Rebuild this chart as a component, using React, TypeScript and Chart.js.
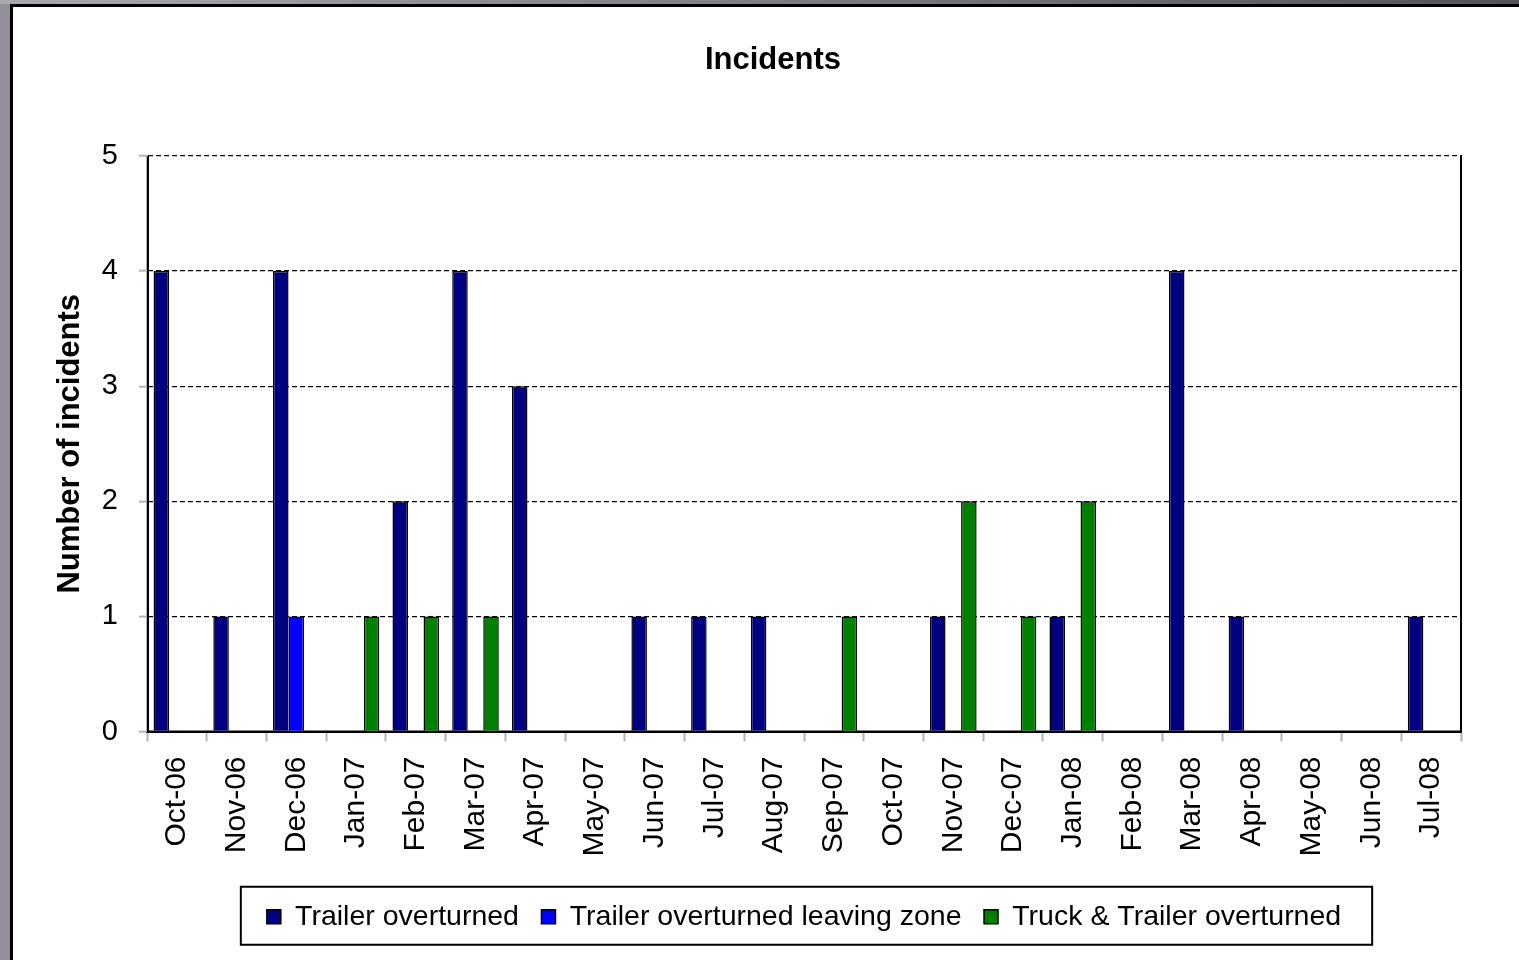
import React, { useEffect, useRef } from "react";
import { Chart, registerables } from "chart.js";

Chart.register(...registerables);

const months = [
  "Oct-06", "Nov-06", "Dec-06", "Jan-07", "Feb-07", "Mar-07", "Apr-07", "May-07",
  "Jun-07", "Jul-07", "Aug-07", "Sep-07", "Oct-07", "Nov-07", "Dec-07", "Jan-08",
  "Feb-08", "Mar-08", "Apr-08", "May-08", "Jun-08", "Jul-08",
];

const trailerOverturned = [4, 1, 4, 0, 2, 4, 3, 0, 1, 1, 1, 0, 0, 1, 0, 1, 0, 4, 1, 0, 0, 1];
const trailerLeavingZone = [0, 0, 1, 0, 0, 0, 0, 0, 0, 0, 0, 0, 0, 0, 0, 0, 0, 0, 0, 0, 0, 0];
const truckAndTrailer = [0, 0, 0, 1, 1, 1, 0, 0, 0, 0, 0, 1, 0, 2, 1, 2, 0, 0, 0, 0, 0, 0];

const yTicks = [0, 1, 2, 3, 4, 5];

const FONT = "'Liberation Sans', Arial, Helvetica, sans-serif";

// Black frame around the plot area (right, bottom, left edges) and a boxed legend.
const framePlugin = {
  id: "plotFrame",
  beforeDatasetsDraw(chart: any) {
    const { ctx, chartArea } = chart;
    const { left, right, top, bottom } = chartArea;
    ctx.save();
    ctx.strokeStyle = "#000";
    ctx.lineWidth = 2;
    ctx.beginPath();
    ctx.moveTo(left + 1, top);
    ctx.lineTo(left + 1, bottom);
    ctx.moveTo(right, top - 1);
    ctx.lineTo(right, bottom);
    ctx.moveTo(left, bottom);
    ctx.lineTo(right + 1, bottom);
    ctx.stroke();
    ctx.restore();
  },
  afterDraw(chart: any) {
    const legend = chart.legend;
    if (!legend || !legend.legendHitBoxes || !legend.legendHitBoxes.length) return;
    const boxes = legend.legendHitBoxes;
    let minX = Infinity, maxX = -Infinity, cy = 0;
    boxes.forEach((b: any) => {
      minX = Math.min(minX, b.left);
      maxX = Math.max(maxX, b.left + b.width);
      cy = b.top + b.height / 2;
    });
    const { ctx } = chart;
    ctx.save();
    ctx.strokeStyle = "#000";
    ctx.lineWidth = 2;
    ctx.strokeRect(minX - 26, cy - 30, maxX - minX + 26 + 31, 58);
    ctx.restore();
  },
};

export default function App() {
  const canvasRef = useRef<HTMLCanvasElement | null>(null);

  useEffect(() => {
    document.body.style.margin = "0";
    document.body.style.overflow = "hidden";
    const canvas = canvasRef.current;
    if (!canvas) return;

    const chart = new Chart(canvas, {
      type: "bar",
      data: {
        labels: months,
        datasets: [
          {
            label: "Trailer overturned",
            data: trailerOverturned,
            backgroundColor: "#000080",
            borderColor: "#000",
            borderWidth: 1.5,
          },
          {
            label: "Trailer overturned leaving zone",
            data: trailerLeavingZone,
            backgroundColor: "#0000FF",
            borderColor: "#000",
            borderWidth: 1.5,
          },
          {
            label: "Truck & Trailer overturned",
            data: truckAndTrailer,
            backgroundColor: "#008000",
            borderColor: "#000",
            borderWidth: 1.5,
          },
        ],
      },
      options: {
        animation: false,
        responsive: false,
        maintainAspectRatio: false,
        layout: { padding: { left: 27, right: 0, top: 0, bottom: 19 } },
        datasets: {
          bar: { barPercentage: 1, categoryPercentage: 0.78 },
        },
        plugins: {
          title: {
            display: true,
            text: "Incidents",
            color: "#000",
            font: { family: FONT, size: 31, weight: "bold" },
            padding: { top: 41.4, bottom: 77.4 },
          },
          legend: {
            position: "bottom",
            fullSize: false,
            labels: {
              color: "#000",
              font: { family: FONT, size: 28.5 },
              boxWidth: 14,
              boxHeight: 14,
              padding: 22.5,
            },
          },
          tooltip: { enabled: false },
        },
        scales: {
          x: {
            offset: true,
            grid: {
              offset: true,
              drawOnChartArea: false,
              drawTicks: true,
              tickLength: 10,
              tickColor: "#b4b4b4",
              tickWidth: 2,
            },
            border: { display: true, color: "#000", width: 2 },
            ticks: {
              color: "#000",
              font: { family: FONT, size: 30 },
              minRotation: 90,
              maxRotation: 90,
              autoSkip: false,
              padding: 15,
            },
            afterFit(scale: any) {
              scale.height = 148.5;
            },
          },
          y: {
            min: 0,
            max: 5,
            afterBuildTicks(scale: any) {
              scale.ticks = yTicks.map((v) => ({ value: v }));
            },
            grid: {
              color: "#000",
              lineWidth: 1.3,
              tickColor: "#b4b4b4",
              tickWidth: 2,
              tickLength: 8,
              tickBorderDash: [],
            },
            border: { display: true, color: "#b4b4b4", width: 2, dash: [5, 3] },
            ticks: {
              color: "#000",
              font: { family: FONT, size: 29 },
              padding: 21,
            },
            title: {
              display: true,
              text: "Number of incidents",
              color: "#000",
              font: { family: FONT, size: 31, weight: "bold" },
              padding: { top: 24.4, bottom: 0 },
            },
            afterFit(scale: any) {
              scale.width = 120;
            },
          },
          yRight: {
            position: "right",
            display: true,
            grid: { display: false, drawOnChartArea: false },
            border: { display: false },
            ticks: { display: false },
            afterFit(scale: any) {
              scale.width = 58;
            },
          },
        },
      },
      plugins: [framePlugin],
    } as any);

    return () => chart.destroy();
  }, []);

  return (
    <div style={{ position: "relative", width: 1519, height: 960, overflow: "hidden", background: "#938f99" }}>
      <div
        style={{
          position: "absolute",
          left: 0,
          top: 0,
          right: 0,
          height: 4,
          background: "linear-gradient(to right, #aaa9b0, #55535a)",
        }}
      />
      <div
        style={{
          position: "absolute",
          left: 10,
          top: 4,
          right: 0,
          bottom: 0,
          background: "#fff",
          borderLeft: "3px solid #000",
          borderTop: "3px solid #000",
        }}
      />
      <canvas
        ref={canvasRef}
        width={1519}
        height={960}
        style={{ position: "absolute", left: 0, top: 0, width: 1519, height: 960 }}
      />
    </div>
  );
}
